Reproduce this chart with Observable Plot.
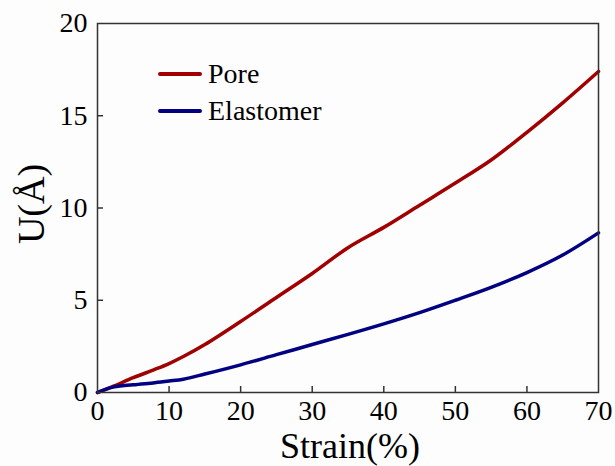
<!DOCTYPE html>
<html>
<head>
<meta charset="utf-8">
<script src="https://cdn.jsdelivr.net/npm/d3@7"></script>
<script src="https://cdn.jsdelivr.net/npm/@observablehq/plot@0.6"></script>
<style>
  html, body { margin: 0; padding: 0; background: #fdfdfd; }
  #wrap { position: relative; width: 615px; height: 466px; font-family: "Liberation Serif", "DejaVu Serif", serif; }
  .leg-item { position: absolute; display: flex; align-items: center; font-size: 28px; color: #000; white-space: nowrap; font-family: "Liberation Serif", "DejaVu Serif", serif; }
  .leg-item span.sw { display: inline-block; width: 44px; height: 4px; border-radius: 2px; margin-right: 6px; }
  svg text { font-family: "Liberation Serif", "DejaVu Serif", serif; }
</style>
</head>
<body>
<div id="wrap"></div>
<script>
// Data
const strain = [0, 2, 5, 8, 10, 12, 15, 20, 25, 30, 35, 40, 45, 50, 55, 60, 65, 70];
const pore = [0, 0.3, 0.8, 1.25, 1.57, 1.95, 2.6, 3.85, 5.15, 6.45, 7.85, 8.95, 10.15, 11.35, 12.6, 14.1, 15.7, 17.4];
const elastomer = [0, 0.28, 0.42, 0.53, 0.62, 0.72, 1.0, 1.5, 2.05, 2.6, 3.15, 3.72, 4.33, 5.0, 5.7, 6.5, 7.45, 8.65];
const seriesNames = ["Pore", "Elastomer"];
const seriesColors = ["#a00000", "#000080"];
const xTicks = [0, 10, 20, 30, 40, 50, 60, 70];
const xInnerTicks = [10, 20, 30, 40, 50, 60];
const yTicks = [0, 5, 10, 15, 20];
const yInnerTicks = [5, 10, 15];
const xLabel = "Strain(%)";
const yLabel = "U(Å)";

const rows = [];
strain.forEach((s, i) => {
  rows.push({series: seriesNames[0], x: s, y: pore[i]});
  rows.push({series: seriesNames[1], x: s, y: elastomer[i]});
});

const serif = '"Liberation Serif", "DejaVu Serif", serif';

const chart = Plot.plot({
  width: 615,
  height: 466,
  marginLeft: 97,
  marginRight: 17,
  marginTop: 23,
  marginBottom: 74,
  style: {fontFamily: serif, fontSize: "28px", background: "transparent", color: "#000"},
  x: {domain: [0, 70]},
  y: {domain: [0, 20]},
  color: {domain: seriesNames, range: seriesColors},
  marks: [
    Plot.line(rows, {x: "x", y: "y", stroke: "series", z: "series", strokeWidth: 3.5, curve: "catmull-rom"}),
    Plot.frame({stroke: "#333", strokeWidth: 1.5}),
    Plot.axisX({ticks: xTicks, tickSize: 0, tickPadding: 8, label: null, fontSize: 28}),
    Plot.axisX({ticks: xInnerTicks, tickSize: 6, dy: -6, text: null, label: null, stroke: "#333", strokeWidth: 1.5}),
    Plot.axisY({ticks: yTicks, tickSize: 0, tickPadding: 10, label: null, fontSize: 28}),
    Plot.axisY({ticks: yInnerTicks, tickSize: 6, dx: 6, text: null, label: null, stroke: "#333", strokeWidth: 1.5}),
    Plot.text([xLabel], {frameAnchor: "bottom", dy: 40, lineAnchor: "top", fontSize: 36, dx: 2}),
    Plot.text([yLabel], {frameAnchor: "left", rotate: -90, dx: -80, dy: -4, lineAnchor: "top", textAnchor: "middle", fontSize: 38})
  ]
});

const wrap = document.getElementById("wrap");
wrap.appendChild(chart);

// Legend overlay
const legendTops = [58, 95];
seriesNames.forEach((name, i) => {
  const item = document.createElement("div");
  item.className = "leg-item";
  item.style.left = "158px";
  item.style.top = legendTops[i] + "px";
  const sw = document.createElement("span");
  sw.className = "sw";
  sw.style.background = seriesColors[i];
  item.appendChild(sw);
  const t = document.createElement("span");
  t.textContent = name;
  item.appendChild(t);
  wrap.appendChild(item);
});
</script>
</body>
</html>
